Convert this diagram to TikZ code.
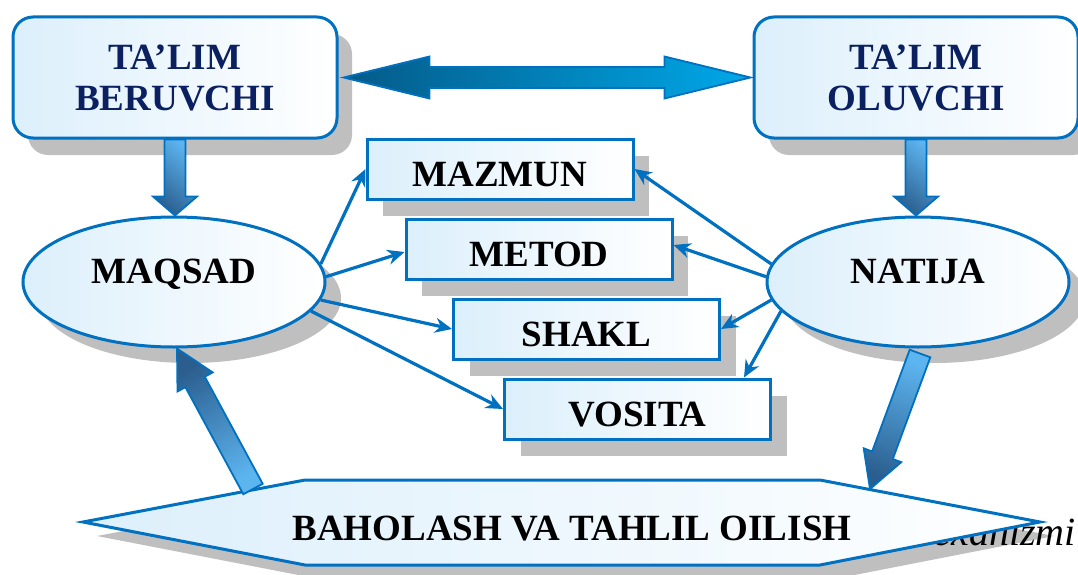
\documentclass[tikz,border=0pt]{standalone}
\usepackage{fontspec}
\setmainfont{Liberation Serif}
\usetikzlibrary{calc,shadows,arrows.meta,shapes.geometric}
\definecolor{bord}{HTML}{0070C0}
\definecolor{fillb}{HTML}{DCEFFB}
\definecolor{shad}{HTML}{BFBFBF}
\definecolor{navy}{HTML}{0B2060}
\definecolor{arrlight}{HTML}{5DB5F0}
\definecolor{arrdark}{HTML}{2B5E8E}
\definecolor{dbldark}{HTML}{045A88}
\definecolor{dbllight}{HTML}{00A8E8}
\begin{document}
\begin{tikzpicture}[x=1pt,y=-1pt,
  bigfont/.style={font=\bfseries\fontsize{37}{41}\selectfont},
  topbox/.style={bigfont, draw=bord, line width=3pt, rounded corners=20pt,
    left color=fillb, right color=white, minimum width=324pt, minimum height=121pt,
    align=center, text=navy,
    general shadow={fill=shad, shadow xshift=15pt, shadow yshift=-17pt}},
  rbox/.style={bigfont, draw=bord, line width=3pt, left color=fillb, right color=white,
    minimum width=266pt, minimum height=60pt, inner sep=0pt, text height=34pt, text depth=0pt,
    general shadow={fill=shad, shadow xshift=16pt, shadow yshift=-17pt}},
  oval/.style={ellipse, draw=bord, line width=3pt, left color=fillb, right color=white,
    minimum width=302pt, minimum height=130pt, inner sep=0pt,
    general shadow={fill=shad, shadow xshift=16pt, shadow yshift=-16pt}},
  lbl/.style={bigfont, inner sep=0pt},
  conn/.style={draw=bord, line width=3.2pt, -{Stealth[length=17pt, width=15pt]}},
  fatline/.style={draw=bord, line width=1.8pt, line join=miter},
  fat/.style n args={3}{to path={let \p1=(\tikztostart), \p2=(\tikztotarget),
      \n1={atan2(\y2-\y1,\x2-\x1)}, \n2={veclen(\x2-\x1,\y2-\y1)} in
      ($(\p1)+({\n1+90}:{#1/2})$) --
      ($(\p1)+(\n1:{\n2-#3})+({\n1+90}:{#1/2})$) --
      ($(\p1)+(\n1:{\n2-#3})+({\n1+90}:{#2/2})$) --
      (\p2) --
      ($(\p1)+(\n1:{\n2-#3})+({\n1-90}:{#2/2})$) --
      ($(\p1)+(\n1:{\n2-#3})+({\n1-90}:{#1/2})$) --
      ($(\p1)+({\n1-90}:{#1/2})$) -- cycle}},
  dfat/.style n args={3}{to path={let \p1=(\tikztostart), \p2=(\tikztotarget),
      \n1={atan2(\y2-\y1,\x2-\x1)}, \n2={veclen(\x2-\x1,\y2-\y1)} in
      (\p1) --
      ($(\p1)+(\n1:{#3})+({\n1+90}:{#2/2})$) --
      ($(\p1)+(\n1:{#3})+({\n1+90}:{#1/2})$) --
      ($(\p1)+(\n1:{\n2-#3})+({\n1+90}:{#1/2})$) --
      ($(\p1)+(\n1:{\n2-#3})+({\n1+90}:{#2/2})$) --
      (\p2) --
      ($(\p1)+(\n1:{\n2-#3})+({\n1-90}:{#2/2})$) --
      ($(\p1)+(\n1:{\n2-#3})+({\n1-90}:{#1/2})$) --
      ($(\p1)+(\n1:{#3})+({\n1-90}:{#1/2})$) --
      ($(\p1)+(\n1:{#3})+({\n1-90}:{#2/2})$) -- cycle}}
]
\useasboundingbox (0,0) rectangle (1078,575);

% hexagon shadow, hidden text, hexagon
\fill[shad] (97,536) -- (319,494) -- (834,494) -- (1054,536) -- (834,579) -- (319,579) -- cycle;
\node[font=\itshape\fontsize{40}{40}\selectfont, anchor=base east, inner sep=0pt] (mex) at (1076,545) {mexanizmi};
\shade[left color=fillb, right color=white, draw=bord, line width=3pt]
  (83,522) -- (305,480) -- (820,480) -- (1040,522) -- (820,565) -- (305,565) -- cycle;
\node[lbl, anchor=base] (baholash) at (572,540) {BAHOLASH VA TAHLIL OILISH};
\coordinate (hexA) at (253,489);
\coordinate (hexB) at (870,489);

% top boxes
\node[topbox] (beruvchi) at (175,77.5) {TA’LIM\\BERUVCHI};
\node[topbox] (oluvchi) at (916,77.5) {TA’LIM\\OLUVCHI};

% ovals
\node[oval] (maqsad) at (174,282) {};
\node[lbl, anchor=base] (maqsadtxt) at (174,283) {MAQSAD};
\node[oval] (natija) at (918,282) {};
\node[lbl, anchor=base] (natijatxt) at (918,283) {NATIJA};

% middle boxes
\node[rbox] (mazmun) at (500,169) {MAZMUN};
\node[rbox] (metod) at (539,249) {METOD};
\node[rbox] (shakl) at (586.5,329) {SHAKL};
\node[rbox] (vosita) at (637.5,409) {VOSITA};

% double arrow
\coordinate (d1) at ([xshift=5pt]beruvchi.east);
\coordinate (d2) at ([xshift=-2pt]oluvchi.west);
\shade[fatline, left color=dbldark, right color=dbllight, dfat={21pt}{42pt}{86pt}] (d1) to (d2);

% vertical fat arrows
\coordinate (b1) at (beruvchi.south);
\coordinate (b2) at (beruvchi.south |- maqsad.north);
\shade[fatline, top color=arrlight, bottom color=arrdark, shading angle=-40, fat={21pt}{44pt}{19pt}] (b1) to (b2);
\coordinate (o1) at (oluvchi.south);
\coordinate (o2) at (oluvchi.south |- natija.north);
\shade[fatline, top color=arrlight, bottom color=arrdark, shading angle=-40, fat={21pt}{44pt}{19pt}] (o1) to (o2);

% diagonal fat arrows
\coordinate (m1) at ([xshift=3pt]maqsad.south);
\shade[fatline, top color=arrdark, bottom color=arrlight, shading angle=30, fat={22pt}{40pt}{38pt}] (hexA) to (m1);
\coordinate (n1) at ([xshift=2pt,yshift=-5pt]natija.south);
\shade[fatline, top color=arrlight, bottom color=arrdark, shading angle=-20, fat={22pt}{40pt}{36pt}] (n1) to (hexB);

% thin connectors from MAQSAD
\draw[conn] (maqsad.7) -- (mazmun.west);
\draw[conn] (maqsad.2) -- ([yshift=-3pt]metod.west);
\draw[conn] (maqsad.-7) -- (shakl.west);
\draw[conn] (maqsad.-12) -- (vosita.west);
% thin connectors from NATIJA
\draw[conn] (natija.173) -- (mazmun.east);
\draw[conn] (natija.178) -- ([yshift=4pt]metod.east);
\draw[conn] (natija.187) -- (shakl.east);
\draw[conn] (natija.192) -- ([xshift=-28pt]vosita.north east);
\end{tikzpicture}
\end{document}
